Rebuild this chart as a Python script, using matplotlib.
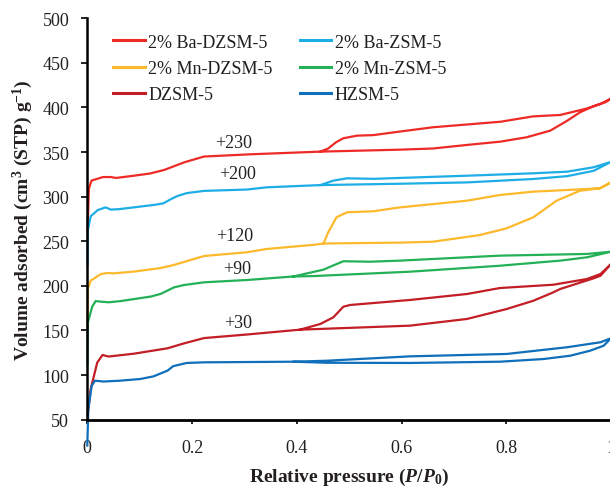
import matplotlib
matplotlib.use('Agg')
import matplotlib.pyplot as plt
import numpy as np

# N2 isotherms, raw uptake (cm3 STP / g); curves are shifted up by the offsets below
samples = ['2% Ba-DZSM-5', '2% Ba-ZSM-5', '2% Mn-DZSM-5', '2% Mn-ZSM-5', 'DZSM-5', 'HZSM-5']
offsets = [230, 200, 120, 90, 30, 0]
colors = ['#ee2a27', '#1eaee6', '#fdb92c', '#24b057', '#c31d25', '#0f6fba']

ba_dzsm_p_ads = [0.0005, 0.003, 0.008, 0.019, 0.03, 0.045, 0.055, 0.089, 0.12, 0.147, 0.185, 0.223, 0.311,
                 0.445, 0.597, 0.66, 0.725, 0.789, 0.839, 0.884, 0.916, 0.941, 0.966, 0.99, 1.0]
ba_dzsm_v_ads = [30, 79, 88, 90, 92, 92, 91, 93.5, 96, 100, 108.5, 115, 117.5,
                 120.5, 122.7, 124, 128, 131.7, 136.6, 144, 155, 164.6, 171.3, 176, 180]
ba_dzsm_p_des = [1.0, 0.98, 0.955, 0.903, 0.851, 0.789, 0.66, 0.597, 0.546, 0.515, 0.489, 0.475, 0.46, 0.445]
ba_dzsm_v_des = [180, 174, 169, 161.6, 160, 154, 147.8, 143, 139, 138.4, 135.5, 131, 124, 120.5]

ba_zsm_p_ads = [0.0005, 0.001, 0.0065, 0.02, 0.035, 0.045, 0.06, 0.089, 0.13, 0.145, 0.159, 0.171, 0.19,
                0.223, 0.305, 0.343, 0.445, 0.597, 0.725, 0.851, 0.916, 0.967, 1.0]
ba_zsm_v_ads = [24, 62, 78, 85, 88, 85.5, 86, 88, 91, 92.5, 97, 100.5, 104,
                106.5, 108, 110.5, 113, 114.5, 116, 119.8, 123, 129, 139]
ba_zsm_p_des = [1.0, 0.967, 0.916, 0.851, 0.725, 0.597, 0.546, 0.496, 0.47, 0.445]
ba_zsm_v_des = [139, 133, 128, 126.2, 123.5, 121, 120, 120.6, 118, 113]

mn_dzsm_p_ads = [0.0005, 0.001, 0.0065, 0.026, 0.04, 0.05, 0.089, 0.14, 0.165, 0.223, 0.305, 0.343,
                 0.432, 0.451, 0.597, 0.66, 0.75, 0.801, 0.852, 0.896, 0.941, 0.979, 1.0]
mn_dzsm_v_ads = [35, 76.5, 85.8, 93.3, 94.5, 94, 96, 100, 103.4, 113.5, 117.7, 121.4,
                 126, 127.5, 128.5, 129.5, 137, 144.6, 157, 175.5, 186.7, 189.4, 196]
mn_dzsm_p_des = [1.0, 0.979, 0.954, 0.916, 0.851, 0.788, 0.725, 0.597, 0.546, 0.496, 0.476, 0.46, 0.451]
mn_dzsm_v_des = [196, 189.4, 188.6, 187.5, 185.6, 181.9, 175.5, 168, 163.6, 162.5, 157, 140, 127.5]

mn_zsm_p_ads = [0.0005, 0.001, 0.0096, 0.016, 0.026, 0.041, 0.064, 0.121, 0.14, 0.166, 0.185, 0.223,
                0.305, 0.393, 0.432, 0.616, 0.788, 0.903, 0.954, 1.0]
mn_zsm_v_ads = [22, 69, 87, 93, 92.3, 91.6, 93, 98, 101, 108.4, 111, 114,
                116.6, 120.5, 121, 125.9, 132.6, 138.3, 142, 148.3]
mn_zsm_p_des = [1.0, 0.954, 0.788, 0.597, 0.54, 0.489, 0.47, 0.451, 0.393]
mn_zsm_v_des = [148.3, 145.8, 143.9, 138.3, 137.1, 137.6, 133, 128.2, 120.5]

dzsm_p_ads = [0.0005, 0.0065, 0.019, 0.029, 0.041, 0.089, 0.153, 0.185, 0.223, 0.305, 0.406, 0.616,
              0.725, 0.801, 0.852, 0.89, 0.903, 0.967, 0.98, 1.0]
dzsm_v_ads = [24.5, 54.4, 84, 92.5, 90.8, 94, 100, 105.6, 111.5, 115.5, 120.9, 125.4,
              132.9, 144.1, 153.4, 162.8, 166.5, 178.5, 181.4, 194.5]
dzsm_p_des = [1.0, 0.98, 0.954, 0.89, 0.788, 0.725, 0.616, 0.502, 0.489, 0.47, 0.445, 0.406]
dzsm_v_des = [194.5, 183.3, 177.7, 171.3, 167.6, 160.9, 154.2, 148.6, 146.7, 134.8, 127.3, 120.9]

hzsm_p_ads = [0.0, 0.002, 0.0084, 0.0147, 0.031, 0.062, 0.101, 0.126, 0.153, 0.164, 0.19, 0.223,
              0.394, 0.457, 0.616, 0.788, 0.871, 0.922, 0.96, 0.986, 1.0]
hzsm_v_ads = [21, 62, 88, 93.7, 92.8, 93.7, 95.6, 98.5, 104.9, 110, 113.6, 114.3,
              115, 113.8, 113.6, 115, 118, 121.7, 127.3, 132.9, 141.3]
hzsm_p_des = [1.0, 0.98, 0.916, 0.801, 0.616, 0.457, 0.394]
hzsm_v_des = [141.3, 136.8, 131.2, 123.7, 121, 116.1, 115]

isotherms = [
    (ba_dzsm_p_ads, ba_dzsm_v_ads, ba_dzsm_p_des, ba_dzsm_v_des),
    (ba_zsm_p_ads, ba_zsm_v_ads, ba_zsm_p_des, ba_zsm_v_des),
    (mn_dzsm_p_ads, mn_dzsm_v_ads, mn_dzsm_p_des, mn_dzsm_v_des),
    (mn_zsm_p_ads, mn_zsm_v_ads, mn_zsm_p_des, mn_zsm_v_des),
    (dzsm_p_ads, dzsm_v_ads, dzsm_p_des, dzsm_v_des),
    (hzsm_p_ads, hzsm_v_ads, hzsm_p_des, hzsm_v_des),
]

# where the "+offset" labels sit (P/P0, plotted volume)
label_pos = [(0.279, 361), (0.286, 325.5), (0.282, 256), (0.286, 220), (0.288, 159.5)]

plt.rcParams['font.family'] = 'Liberation Serif'
plt.rcParams['mathtext.fontset'] = 'custom'
plt.rcParams['mathtext.rm'] = 'Liberation Serif:bold'
plt.rcParams['mathtext.bf'] = 'Liberation Serif:bold'
plt.rcParams['mathtext.it'] = 'Liberation Serif:bold:italic'
text_color = '#231f20'

fig = plt.figure(figsize=(6.1, 4.89), dpi=100)
ax = fig.add_axes([0.1431, 0.1397, 0.8585, 0.8209])

lines = []
for name, off, col, (pa, va, pd_, vd) in zip(samples, offsets, colors, isotherms):
    p = np.concatenate([pa, pd_])
    v = np.concatenate([va, vd]) + off
    ln, = ax.plot(p, v, color=col, linewidth=1.6, label=name, clip_on=False, solid_joinstyle='round')
    lines.append(ln)

for off, (px, py) in zip(offsets, label_pos):
    ax.text(px, py, f'+{off}', fontsize=13, color=text_color, ha='center', va='center')

ax.set_xlim(0, 1)
ax.set_ylim(50, 500)
ax.set_xticks([0, 0.2, 0.4, 0.6, 0.8, 1.0])
ax.set_xticklabels(['0', '0.2', '0.4', '0.6', '0.8', '1'])
ax.set_yticks(np.arange(50, 501, 50))

ax.spines['top'].set_visible(False)
ax.spines['right'].set_visible(False)
ax.spines['left'].set_linewidth(1.8)
ax.spines['bottom'].set_linewidth(2.0)
ax.tick_params(axis='y', direction='out', length=4, width=1.2, pad=9, labelsize=13, labelcolor=text_color)
ax.tick_params(axis='x', direction='out', length=3, width=1.2, pad=11, labelsize=13, labelcolor=text_color)

ax.set_xlabel('Relative pressure $(P/P_0)$', fontsize=14, fontweight='bold', color=text_color, labelpad=7)
ax.set_ylabel('Volume adsorbed (cm$^{3}$ (STP) g$^{-1}$)', fontsize=14, fontweight='bold',
              color=text_color, labelpad=5)

# legend filled row by row: left column holds the D-samples
order = [0, 2, 4, 1, 3, 5]
leg = ax.legend([lines[i] for i in order], [samples[i] for i in order], ncol=2, frameon=False,
                fontsize=13, loc='upper left', bbox_to_anchor=(0.049, 0.962),
                borderaxespad=0, borderpad=0, handlelength=1.75, handletextpad=0.2,
                columnspacing=1.5, labelspacing=0.52)
for t in leg.get_texts():
    t.set_color(text_color)
for h in leg.get_lines():
    h.set_linewidth(2.2)

plt.savefig('out.png', dpi=100)
